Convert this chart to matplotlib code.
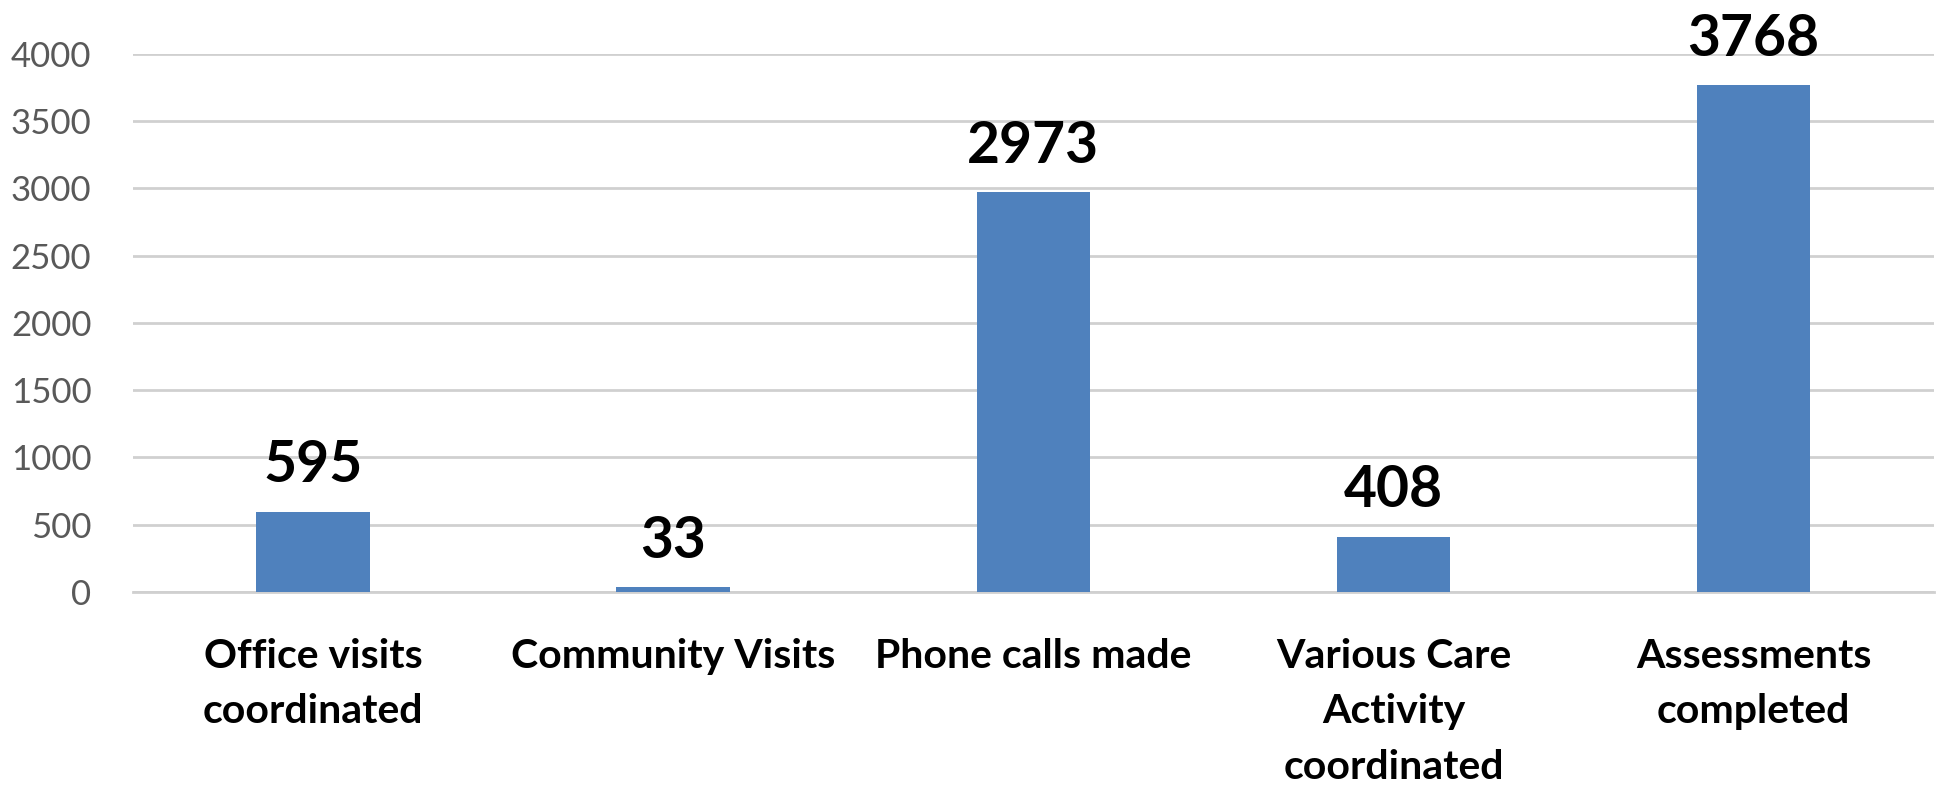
import matplotlib.pyplot as plt
import numpy as np

# Data
categories = ['Office visits\ncoordinated', 'Community Visits', 'Phone calls made',
              'Various Care\nActivity\ncoordinated', 'Assessments\ncompleted']
values = [595, 33, 2973, 408, 3768]
yticks = [0, 500, 1000, 1500, 2000, 2500, 3000, 3500, 4000]

plt.rcParams['font.family'] = ['Lato', 'DejaVu Sans']

fig = plt.figure(figsize=(19.57, 7.88), dpi=100)
ax = fig.add_axes([0.068, 0.249, 0.92, 0.6825])

x = np.arange(len(categories))
bars = ax.bar(x, values, width=0.315, color='#4f81bd', zorder=3)

# value labels above bars
for xi, v in zip(x, values):
    ax.annotate(str(v), (xi, v), xytext=(0, 14), textcoords='offset points',
                ha='center', va='bottom', fontsize=41, fontweight='bold',
                color='black', annotation_clip=False)

ax.set_xlim(-0.5, len(categories) - 0.5)
ax.set_ylim(0, 4000)
ax.set_yticks(yticks)
ax.set_yticklabels([str(t) for t in yticks], fontsize=25, color='#595959')
ax.yaxis.grid(True, color='#d0d0d0', linewidth=2, zorder=0)
ax.set_axisbelow(True)

ax.set_xticks(x)
ax.set_xticklabels(categories, fontsize=29.5, fontweight='bold', linespacing=1.62,
                   va='top')
ax.tick_params(axis='x', length=0, pad=33)
ax.tick_params(axis='y', length=0, pad=30)

for s in ['top', 'right', 'left']:
    ax.spines[s].set_visible(False)
ax.spines['bottom'].set_color('#d0d0d0')
ax.spines['bottom'].set_linewidth(2)

fig.savefig('out.png', dpi=100, facecolor='white')
